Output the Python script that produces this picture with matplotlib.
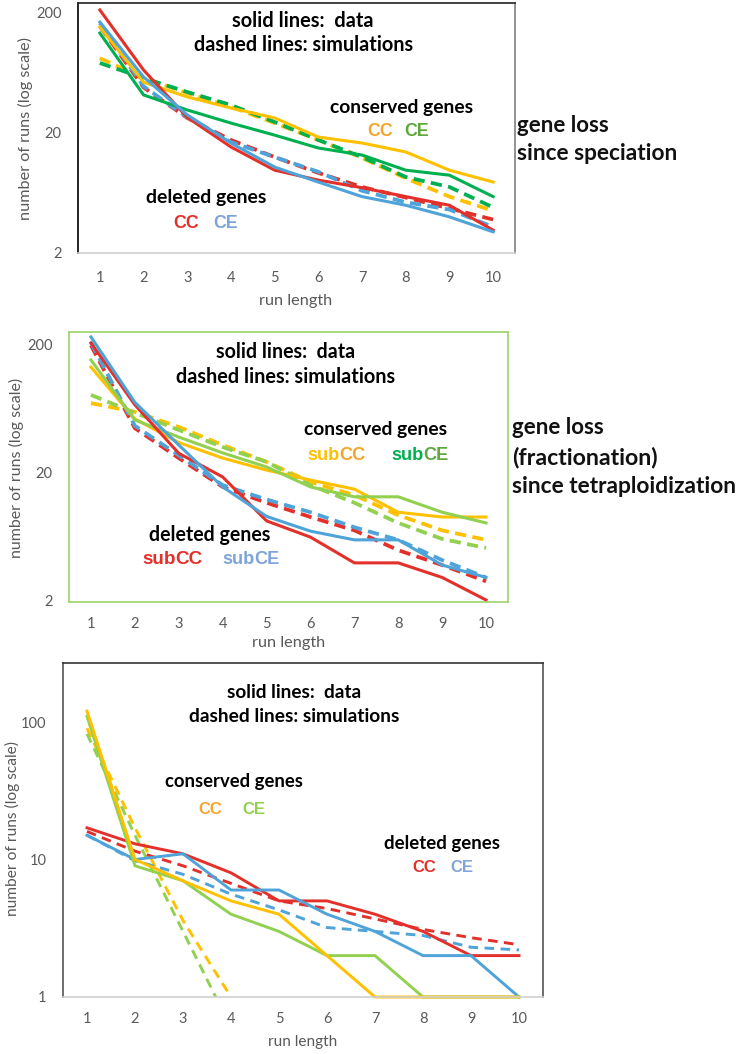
import numpy as np
import matplotlib
matplotlib.use("Agg")
import matplotlib.pyplot as plt
from matplotlib.ticker import NullLocator, FixedLocator, FixedFormatter

nan = float("nan")

# ---------------- data ----------------
run_length = [1, 2, 3, 4, 5, 6, 7, 8, 9, 10]

# panel 1: gene loss since speciation
p1_del_CC_data = [212, 67, 27, 15.3, 9.8, 8.1, 7.0, 5.9, 5.0, 3.1]
p1_del_CE_data = [168, 58.6, 28.3, 16.5, 10.4, 7.8, 5.9, 5.0, 4.0, 3.0]
p1_con_CC_data = [153, 53, 40, 32.3, 26.7, 18.5, 16.5, 13.9, 9.8, 7.8]
p1_con_CE_data = [136, 41.5, 31.1, 24.2, 19.2, 15.0, 13.1, 9.8, 8.9, 5.9]
p1_con_CC_sim = [84, 57.4, 43, 33, 24.2, 17.5, 12.4, 8.4, 5.9, 4.5]
p1_con_CE_sim = [76.6, 57.4, 43.9, 34.2, 24.7, 17.5, 12.6, 8.6, 7.1, 4.8]
p1_del_CC_sim = [155, 48, 26.7, 17.5, 12.6, 9.3, 7.1, 5.8, 4.7, 3.8]
p1_del_CE_sim = [165, 49, 27, 16.8, 12.6, 9.5, 6.6, 5.3, 4.6, 3.3]

# panel 2: fractionation since tetraploidization
p2_del_CC_data = [204, 67, 28, 18.3, 8.3, 6.2, 3.9, 3.9, 3.0, 2.0]
p2_del_CE_data = [227, 70, 32.5, 15.3, 9.0, 6.9, 5.9, 5.9, 3.75, 3.0]
p2_con_CC_data = [132, 52, 34, 25.7, 20.7, 17.3, 14.7, 9.7, 8.9, 8.9]
p2_con_CE_data = [150, 51, 37.5, 28.2, 21.9, 15.3, 12.8, 12.8, 9.7, 8.0]
p2_con_CC_sim = [69, 59, 45, 32.5, 24, 16.7, 13.2, 9.2, 7.0, 5.9]
p2_con_CE_sim = [80, 58, 42.6, 31.3, 24, 15.8, 11.5, 8.0, 6.0, 5.1]
p2_del_CC_sim = [195, 44, 25.7, 15.3, 11.5, 8.9, 7.0, 4.9, 3.75, 2.8]
p2_del_CE_sim = [205, 46, 27, 15.8, 12.2, 9.7, 7.4, 5.9, 4.1, 3.0]

# panel 3
p3_con_CC_data = [120, 10, 7, 5, 4, 2, 1, 1, 1, 1]
p3_con_CE_data = [110, 9, 7, 4, 3, 2, 2, 1, 1, 1]
p3_del_CC_data = [17, 13, 11, 8, 5, 5, 4, 3, 2, 2]
p3_del_CE_data = [15, 10, 11, 6, 6, 4, 3, 2, 2, 1]
p3_con_CC_sim = [90, 17, 3.6, 1.0, nan, nan, nan, nan, nan, nan]
p3_con_CE_sim = [82, 15, 3.0, 0.6, nan, nan, nan, nan, nan, nan]
p3_del_CC_sim = [16, 11.5, 9, 6.7, 5, 4.4, 3.7, 3.1, 2.7, 2.4]
p3_del_CE_sim = [15, 9.8, 7.8, 5.6, 4.3, 3.2, 3.0, 2.8, 2.3, 2.2]

ticks_12 = [2, 20, 200]
ticks_12_labels = ["2", "20", "200"]
ticks_3 = [1, 10, 100]
ticks_3_labels = ["1", "10", "100"]

# ---------------- style ----------------
RED = "#E3302A"
BLUE = "#4EA3D9"
YEL = "#FFC000"
GRN1 = "#00B050"
GRN2 = "#92D050"
ORG_T = "#F5A52A"
OLV_T = "#5DA83C"
LBL_T = "#7EA4DB"
GRAY = "#595959"

W, H = 738, 1054
fig = plt.figure(figsize=(W / 100, H / 100), dpi=100)
renderer = fig.canvas.get_renderer()
FAM = ["Lato", "DejaVu Sans"]
ARIAL = ["Liberation Sans", "DejaVu Sans"]


def axes_px(l, t, r, b):
    return fig.add_axes([l / W, 1 - b / H, (r - l) / W, (b - t) / H])


def fit_text(s, x, y, width, ha="center", color="black", weight="bold",
             family=FAM, rotation=0, base=12):
    t = fig.text(x / W, 1 - y / H, s, ha=ha, va="center", fontsize=base,
                 color=color, fontweight=weight, family=family)
    w = t.get_window_extent(renderer).width
    t.set_fontsize(base * width / w)
    if rotation:
        t.set_rotation(rotation)
    return t


def label(s, x, y, color, size):
    return fig.text(x / W, 1 - y / H, s, ha="left", va="center", fontsize=size,
                    color=color, fontweight="bold", family=ARIAL)


def two_tone(parts, x_left, y, width, family=ARIAL, base=12):
    full = "".join(p for p, _ in parts)
    t = fig.text(0, 0, full, fontsize=base, fontweight="bold", family=family)
    w = t.get_window_extent(renderer).width
    t.remove()
    fs = base * width / w
    x = x_left
    for s, c in parts:
        tt = fig.text(x / W, 1 - y / H, s, ha="left", va="center", fontsize=fs,
                      color=c, fontweight="bold", family=family)
        x += tt.get_window_extent(renderer).width


DASH = (0, (3.0, 1.7))
DASH3 = (0, (3.3, 2.2))


def setup(ax, ylo, yhi, ticks, labels, ypad, xpad):
    ax.set_yscale("log")
    ax.set_xlim(0.5, 10.5)
    ax.set_ylim(ylo, yhi)
    ax.yaxis.set_major_locator(FixedLocator(ticks))
    ax.yaxis.set_major_formatter(FixedFormatter(labels))
    ax.yaxis.set_minor_locator(NullLocator())
    ax.set_xticks(run_length)
    ax.set_xticklabels([str(v) for v in run_length])
    ax.tick_params(axis="y", length=0, pad=ypad, labelsize=10.5, labelcolor=GRAY)
    ax.tick_params(axis="x", length=0, pad=xpad, labelsize=10.5, labelcolor=GRAY)
    for lab in ax.get_xticklabels() + ax.get_yticklabels():
        lab.set_family(FAM)


# ================= panel 1 =================
ax1 = axes_px(78, 3, 515, 253)
setup(ax1, 2, 2 * 10 ** (250 / 120), ticks_12, ticks_12_labels, 12, 13)
lw, lwd = 2.2, 2.7
ax1.plot(run_length, p1_con_CC_sim, color=YEL, lw=lwd, ls=DASH)
ax1.plot(run_length, p1_con_CE_sim, color=GRN1, lw=lwd, ls=DASH)
ax1.plot(run_length, p1_del_CC_sim, color=RED, lw=lwd, ls=DASH)
ax1.plot(run_length, p1_del_CE_sim, color=BLUE, lw=lwd, ls=DASH)
ax1.plot(run_length, p1_con_CC_data, color=YEL, lw=lw)
ax1.plot(run_length, p1_con_CE_data, color=GRN1, lw=lw)
ax1.plot(run_length, p1_del_CC_data, color=RED, lw=lw)
ax1.plot(run_length, p1_del_CE_data, color=BLUE, lw=lw)
ax1.spines["left"].set_color("#000000")
ax1.spines["top"].set_color("#222222")
ax1.spines["right"].set_color("#7f7f7f")
ax1.spines["bottom"].set_color("#d0d0d0")
for s in ax1.spines.values():
    s.set_linewidth(1.2)

fit_text("solid lines:  data", 303, 21, 140)
fit_text("dashed lines: simulations", 304, 45, 218)
fit_text("conserved genes", 401.5, 107, 143)
label("CC", 367, 132, ORG_T, 12.8)
label("CE", 404, 132, OLV_T, 12.8)
fit_text("deleted genes", 206, 198, 120)
label("CC", 173, 224, RED, 12.8)
label("CE", 213, 224, LBL_T, 12.8)
fit_text("gene loss", 517, 125, 91, ha="left", color="#111111")
fit_text("since speciation", 517, 154, 159, ha="left", color="#111111")
fit_text("number of runs (log scale)", 25, 128, 183, color=GRAY, weight="normal", rotation=90)
fit_text("run length", 296, 301, 73, color=GRAY, weight="normal")

# ================= panel 2 =================
ax2 = axes_px(69, 332, 508, 602)
ppd = 128.0
setup(ax2, 2 * 10 ** (-2 / ppd), 200 * 10 ** (12 / ppd), ticks_12, ticks_12_labels, 12, 11)
ax2.plot(run_length, p2_con_CC_sim, color=YEL, lw=lwd, ls=DASH)
ax2.plot(run_length, p2_con_CE_sim, color=GRN2, lw=lwd, ls=DASH)
ax2.plot(run_length, p2_del_CC_sim, color=RED, lw=lwd, ls=DASH)
ax2.plot(run_length, p2_del_CE_sim, color=BLUE, lw=lwd, ls=DASH)
ax2.plot(run_length, p2_con_CC_data, color=YEL, lw=lw)
ax2.plot(run_length, p2_con_CE_data, color=GRN2, lw=lw)
ax2.plot(run_length, p2_del_CC_data, color=RED, lw=lw)
ax2.plot(run_length, p2_del_CE_data, color=BLUE, lw=lw)
for s in ax2.spines.values():
    s.set_color("#9CD36A")
    s.set_linewidth(1.2)

fit_text("solid lines:  data", 286, 352, 138)
fit_text("dashed lines: simulations", 286, 377, 218)
fit_text("conserved genes", 375.5, 430, 143)
two_tone([("sub", YEL), ("CC", ORG_T)], 307, 455, 58)
two_tone([("sub", GRN1), ("CE", OLV_T)], 391, 455, 57)
fit_text("deleted genes", 209.5, 535, 121)
two_tone([("sub", RED), ("CC", RED)], 142, 559, 60)
two_tone([("sub", LBL_T), ("CE", LBL_T)], 222, 559, 57)
fit_text("gene loss", 512, 428, 91, ha="left", color="#111111")
fit_text("(fractionation)", 512, 457, 145, ha="left", color="#111111")
fit_text("since tetraploidization", 512, 486, 223, ha="left", color="#111111")
fit_text("number of runs (log scale)", 16, 468, 180, color=GRAY, weight="normal", rotation=90)
fit_text("run length", 288.5, 643, 73, color=GRAY, weight="normal")

# ================= panel 3 =================
ax3 = axes_px(63, 663, 543, 997)
ppd3 = 137.5
setup(ax3, 1, 10 ** (2 + 59 / ppd3), ticks_3, ticks_3_labels, 12, 11)
lw3 = 2.1
ax3.plot(run_length, p3_con_CC_sim, color=YEL, lw=lw3, ls=DASH3)
ax3.plot(run_length, p3_con_CE_sim, color=GRN2, lw=lw3, ls=DASH3)
ax3.plot(run_length, p3_del_CC_sim, color=RED, lw=lw3, ls=DASH3)
ax3.plot(run_length, p3_del_CE_sim, color=BLUE, lw=lw3, ls=DASH3)
ax3.plot(run_length, p3_del_CC_data, color=RED, lw=lw3, clip_on=False)
ax3.plot(run_length, p3_del_CE_data, color=BLUE, lw=lw3, clip_on=False)
ax3.plot(run_length, p3_con_CE_data, color=GRN2, lw=lw3, clip_on=False)
ax3.plot(run_length, p3_con_CC_data, color=YEL, lw=lw3, clip_on=False)
ax3.spines["left"].set_color("#555555")
ax3.spines["top"].set_color("#333333")
ax3.spines["right"].set_color("#555555")
ax3.spines["bottom"].set_color("#d0d0d0")
for s in ax3.spines.values():
    s.set_linewidth(1.2)

fit_text("solid lines:  data", 294.5, 693, 133)
fit_text("dashed lines: simulations", 294.5, 717, 209)
fit_text("conserved genes", 233.5, 782, 137)
label("CC", 198, 809, ORG_T, 12.0)
label("CE", 242, 809, GRN2, 12.0)
fit_text("deleted genes", 442.5, 843, 115)
label("CC", 412, 868, RED, 12.0)
label("CE", 450, 868, LBL_T, 12.0)
fit_text("number of runs (log scale)", 12, 829, 175, color=GRAY, weight="normal", rotation=90)
fit_text("run length", 303, 1042, 69, color=GRAY, weight="normal")

fig.savefig("out.png", dpi=100)
